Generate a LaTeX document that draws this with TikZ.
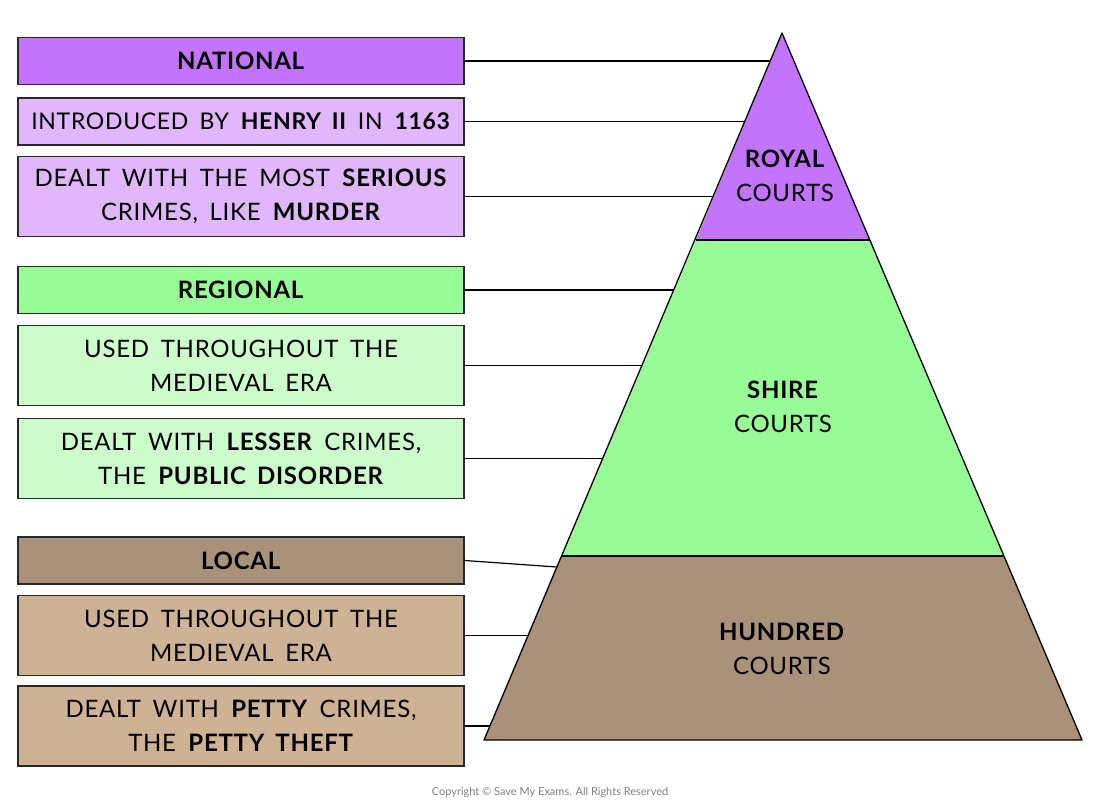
\documentclass[tikz,border=0pt]{standalone}
\usepackage{fontspec}
\setmainfont{Lato}[LetterSpace=3,WordSpace=1.7]
\newfontfamily\plainfont{Lato}
\definecolor{natP}{RGB}{195,116,252}
\definecolor{natL}{RGB}{224,183,250}
\definecolor{regG}{RGB}{152,251,152}
\definecolor{regL}{RGB}{204,252,204}
\definecolor{locB}{RGB}{169,145,122}
\definecolor{locL}{RGB}{206,178,150}
\definecolor{edge}{RGB}{40,40,40}
\begin{document}
\begin{tikzpicture}[x=1pt,y=-1pt,
  infobox/.style={draw=edge,line width=1.4pt,minimum width=446pt,inner sep=0pt,align=center,
    font=\fontsize{24}{34}\selectfont},
  tier/.style={draw=black,line width=1.3pt,line join=round},
  link/.style={draw=black,line width=1.2pt},
  lbl/.style={align=center,font=\fontsize{24}{34}\selectfont}]
\useasboundingbox (0,0) rectangle (1100,808);
% pyramid
\coordinate (apex) at (782,33);
\coordinate (rL) at (696,240); \coordinate (rR) at (870,240);
\coordinate (sL) at (561,556); \coordinate (sR) at (1004,556);
\coordinate (bL) at (484,740); \coordinate (bR) at (1082,740);
\fill[locB] (sL) -- (sR) -- (bR) -- (bL) -- cycle;
\fill[regG] (rL) -- (rR) -- (sR) -- (sL) -- cycle;
\fill[natP] (apex) -- (rR) -- (rL) -- cycle;
\draw[tier] (apex) -- (bR) -- (bL) -- cycle;
\draw[tier] (rL) -- (rR);
\draw[tier] (sL) -- (sR);
\node[lbl] (royal) at (785,176) {\textbf{ROYAL}\\COURTS};
\node[lbl] (shire) at (783,407) {\textbf{SHIRE}\\COURTS};
\node[lbl] (hund) at (782,649) {\textbf{HUNDRED}\\COURTS};
% boxes
\node[infobox,fill=natP,minimum height=47pt] (nat) at (241,61) {\textbf{NATIONAL}};
\node[infobox,fill=natL,minimum height=47pt,font=\fontsize{23}{34}\selectfont] (intro) at (241,121.5) {INTRODUCED BY \textbf{HENRY II} IN \textbf{1163}};
\node[infobox,fill=natL,minimum height=80pt] (serious) at (241,196.5) {DEALT WITH THE MOST \textbf{SERIOUS}\\CRIMES, LIKE \textbf{MURDER}};
\node[infobox,fill=regG,minimum height=47pt] (reg) at (241,290) {\textbf{REGIONAL}};
\node[infobox,fill=regL,minimum height=80pt] (used1) at (241,365.5) {USED THROUGHOUT THE\\MEDIEVAL ERA};
\node[infobox,fill=regL,minimum height=80pt] (lesser) at (241,458.5) {DEALT WITH \textbf{LESSER} CRIMES,\\THE \textbf{PUBLIC DISORDER}};
\node[infobox,fill=locB,minimum height=47pt] (loc) at (241,560.5) {\textbf{LOCAL}};
\node[infobox,fill=locL,minimum height=80pt] (used2) at (241,635.5) {USED THROUGHOUT THE\\MEDIEVAL ERA};
\node[infobox,fill=locL,minimum height=80pt] (petty) at (241,726) {DEALT WITH \textbf{PETTY} CRIMES,\\THE \textbf{PETTY THEFT}};
% connector endpoints on pyramid left edge
\coordinate (p1) at (770,61);
\coordinate (p2) at (745,121.5);
\coordinate (p3) at (713,196.5);
\coordinate (p4) at (674,290);
\coordinate (p5) at (642,365.5);
\coordinate (p6) at (603,458.5);
\coordinate (p7) at (557,567);
\coordinate (p8) at (528,635.5);
\coordinate (p9) at (490,726);
\draw[link] (nat.east) -- (p1);
\draw[link] (intro.east) -- (p2);
\draw[link] (serious.east) -- (p3);
\draw[link] (reg.east) -- (p4);
\draw[link] (used1.east) -- (p5);
\draw[link] (lesser.east) -- (p6);
\draw[link] (loc.east) -- (p7);
\draw[link] (used2.east) -- (p8);
\draw[link] (petty.east) -- (p9);
\node[text=gray,font=\plainfont\fontsize{11}{12}\selectfont] (copy) at (550,792) {Copyright © Save My Exams. All Rights Reserved};
\end{tikzpicture}
\end{document}
